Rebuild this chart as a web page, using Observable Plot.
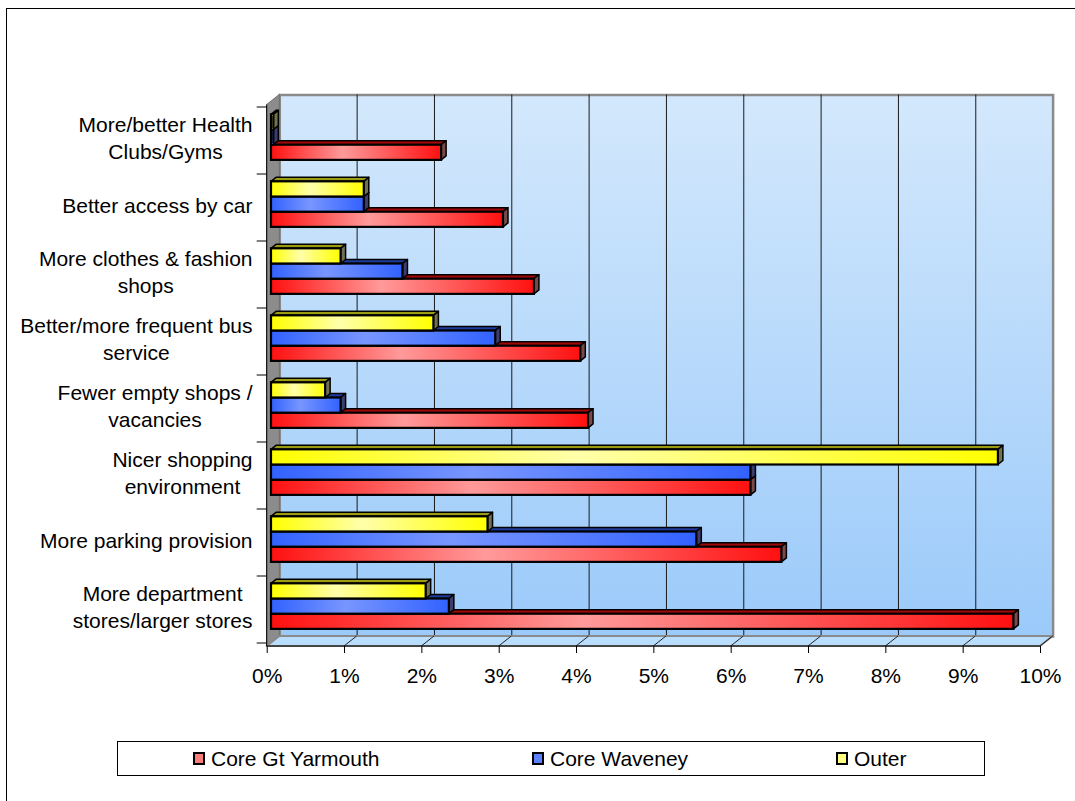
<!DOCTYPE html>
<html>
<head>
<meta charset="utf-8">
<script src="https://cdn.jsdelivr.net/npm/d3@7"></script>
<script src="https://cdn.jsdelivr.net/npm/@observablehq/plot@0.6"></script>
<style>
  html, body { margin: 0; padding: 0; background: #fff; width: 1075px; height: 801px; overflow: hidden; }
  #chart { position: absolute; left: 0; top: 0; }
  #border { position: absolute; left: 6px; top: 8px; width: 1200px; height: 1000px; border: 1px solid #000; box-sizing: border-box; pointer-events: none; }
  #legend { position: absolute; left: 117px; top: 741px; width: 868px; height: 35px; border: 1px solid #000; box-sizing: border-box; background: #fff;
            font-family: "Liberation Sans", Arial, sans-serif; font-size: 21px; color: #000; }
  #legend .sw { position: absolute; top: 10px; width: 12px; height: 13px; border: 2px solid #000; box-sizing: border-box; }
  #legend .lab { position: absolute; top: 0; line-height: 33px; white-space: nowrap; }
</style>
</head>
<body>
<div id="chart"></div>
<div id="legend"></div>
<div id="border"></div>
<script>
// Survey answers: share of respondents (%) wanting each improvement
const categories = [
  "More/better Health\nClubs/Gyms",
  "Better access by car",
  "More clothes & fashion\nshops",
  "Better/more frequent bus\nservice",
  "Fewer empty shops /\nvacancies",
  "Nicer shopping\nenvironment",
  "More parking provision",
  "More department\nstores/larger stores"
];
const seriesNames = ["Core Gt Yarmouth", "Core Waveney", "Outer"];
const coreGtYarmouth = [2.2, 3.0, 3.4, 4.0, 4.1, 6.2, 6.6, 9.6];
const coreWaveney    = [0.03, 1.2, 1.7, 2.9, 0.9, 6.2, 5.5, 2.3];
const outer          = [0.03, 1.2, 0.9, 2.1, 0.7, 9.4, 2.8, 2.0];
const xTicks = [0, 1, 2, 3, 4, 5, 6, 7, 8, 9, 10];

const seriesValues = {
  "Core Gt Yarmouth": coreGtYarmouth,
  "Core Waveney": coreWaveney,
  "Outer": outer
};

// Colours for each series: front gradient (base/light), top face, side face, legend key
const palette = {
  "Core Gt Yarmouth": {id: "g-yar", base: "#ff1010", light: "#ff9a9a", top: "#a00808", side: "#7a4a4a", key: "#ff7c7c"},
  "Core Waveney":     {id: "g-wav", base: "#3262ff", light: "#7896ff", top: "#1f3c9c", side: "#3c3c6e", key: "#5d80ff"},
  "Outer":            {id: "g-out", base: "#ffff00", light: "#ffffaa", top: "#9c9c10", side: "#707052", key: "#ffff80"}
};

// 3D geometry (pixels)
const wallDepth = {dx: 12.6, dy: 10};   // back wall offset from the front plane
const barOffset = {dx: 4.3, dy: 3.4};   // bars sit slightly behind the front plane
const barDepth = {dx: 5, dy: 4};        // thickness of each bar
const groupFraction = 0.68;             // share of a category band used by the bars

const font = '"Liberation Sans", Arial, sans-serif';
const labelSize = 21;
const labelGap = 14.7;

// Width of the widest line of a (possibly multi-line) label
const measureCtx = document.createElement("canvas").getContext("2d");
measureCtx.font = `${labelSize}px ${font}`;
const blockWidth = s => d3.max(s.split("\n"), line => measureCtx.measureText(line).width);

// Gradients used by the wall and the bar fronts
const defsMark = () => {
  const d = d3.create("svg:defs");
  const wall = d.append("linearGradient").attr("id", "wallGrad")
    .attr("x1", 0).attr("y1", 0).attr("x2", 0).attr("y2", 1);
  wall.append("stop").attr("offset", 0).attr("stop-color", "#d3e8fc");
  wall.append("stop").attr("offset", 1).attr("stop-color", "#9bcafa");
  for (const s of seriesNames) {
    const c = palette[s];
    const lg = d.append("linearGradient").attr("id", c.id)
      .attr("x1", 0).attr("y1", 0).attr("x2", 1).attr("y2", 0);
    lg.append("stop").attr("offset", 0).attr("stop-color", c.base);
    lg.append("stop").attr("offset", 0.42).attr("stop-color", c.light);
    lg.append("stop").attr("offset", 1).attr("stop-color", c.base);
  }
  return d.node();
};

// Left side wall and the floor of the 3D box
const sideWallsMark = (index, {x}, values, dims) => {
  const g = d3.create("svg:g");
  const x0 = x(0), x1 = x(10);
  const top = dims.marginTop, bottom = dims.height - dims.marginBottom;
  const {dx, dy} = wallDepth;
  g.append("polygon")
    .attr("points", [[x0, top], [x0 + dx, top - dy], [x0 + dx, bottom - dy], [x0, bottom]].join(" "))
    .attr("fill", "#8c8c8c").attr("stroke", "#6e6e6e").attr("stroke-width", 1);
  g.append("polygon")
    .attr("points", [[x0, bottom], [x1, bottom], [x1 + dx, bottom - dy], [x0 + dx, bottom - dy]].join(" "))
    .attr("fill", "#b9ddfd").attr("stroke", "#8a8a8a").attr("stroke-width", 2).attr("stroke-linejoin", "round");
  // grid continuation across the floor
  for (const t of xTicks.slice(1)) {
    g.append("line")
      .attr("x1", x(t)).attr("y1", bottom).attr("x2", x(t) + dx).attr("y2", bottom - dy)
      .attr("stroke", "#222").attr("stroke-width", 1);
  }
  // axis lines
  g.append("line").attr("x1", x0).attr("x2", x1).attr("y1", bottom).attr("y2", bottom)
    .attr("stroke", "#000").attr("stroke-width", 1);
  g.append("line").attr("x1", x0).attr("x2", x0).attr("y1", top).attr("y2", bottom)
    .attr("stroke", "#000").attr("stroke-width", 1);
  return g.node();
};

// Category dividers on the vertical axis
const categoryTicksMark = (index, {x, y}) => {
  const g = d3.create("svg:g");
  const bw = y.bandwidth();
  const edges = categories.map(c => y(c)).concat([y(categories[categories.length - 1]) + bw]);
  for (const e of edges) {
    g.append("line").attr("x1", x(0) - 10).attr("x2", x(0)).attr("y1", e).attr("y2", e)
      .attr("stroke", "#000").attr("stroke-width", 1);
  }
  return g.node();
};

// Grouped 3D bars: Outer on top, then Core Waveney, then Core Gt Yarmouth
const bars3dMark = (index, {x, y}) => {
  const g = d3.create("svg:g");
  const bw = y.bandwidth();
  const stackOrder = ["Outer", "Core Waveney", "Core Gt Yarmouth"];
  const sub = d3.scaleBand().domain(stackOrder)
    .range([-bw * groupFraction / 2, bw * groupFraction / 2]);
  const drawOrder = stackOrder.slice().reverse();
  const x0 = x(0) + barOffset.dx;
  const {dx, dy} = barDepth;
  categories.forEach((cat, i) => {
    const cy = y(cat) + bw / 2 - barOffset.dy;
    for (const s of drawOrder) {
      const c = palette[s];
      const v = seriesValues[s][i];
      const y0 = cy + sub(s), y1 = y0 + sub.bandwidth();
      const x1 = x(v) + barOffset.dx;
      g.append("polygon")
        .attr("points", [[x0, y0], [x1, y0], [x1 + dx, y0 - dy], [x0 + dx, y0 - dy]].join(" "))
        .attr("fill", c.top).attr("stroke", "#000").attr("stroke-width", 1.5).attr("stroke-linejoin", "round");
      g.append("polygon")
        .attr("points", [[x1, y0], [x1 + dx, y0 - dy], [x1 + dx, y1 - dy], [x1, y1]].join(" "))
        .attr("fill", c.side).attr("stroke", "#000").attr("stroke-width", 1.5).attr("stroke-linejoin", "round");
      g.append("rect")
        .attr("x", x0).attr("y", y0).attr("width", Math.max(0, x1 - x0)).attr("height", y1 - y0)
        .attr("fill", `url(#${c.id})`).attr("stroke", "#000").attr("stroke-width", 2.2);
    }
  });
  return g.node();
};

// Category labels: lines centred on each other, block right-aligned next to the axis
const labelMarks = categories.map(c =>
  Plot.text([c], {
    y: d => d, text: d => d, frameAnchor: "left", textAnchor: "middle",
    dx: -labelGap - blockWidth(c) / 2, dy: -4,
    fontSize: labelSize, lineHeight: 1.3, fill: "#000"
  })
);

const chart = Plot.plot({
  width: 1075,
  height: 720,
  marginLeft: 266.7,
  marginRight: 35,
  marginTop: 104.5,
  marginBottom: 74,
  style: {fontFamily: font, fontSize: "21px", background: "transparent", color: "#000", overflow: "visible"},
  x: {type: "linear", domain: [0, 10], axis: null},
  y: {type: "band", domain: categories, padding: 0, axis: null},
  marks: [
    defsMark,
    Plot.frame({fill: "url(#wallGrad)", stroke: "#8a8a8a", strokeWidth: 2.5, dx: wallDepth.dx, dy: -wallDepth.dy}),
    Plot.ruleX(xTicks.slice(1, -1), {stroke: "#1a1a1a", strokeWidth: 1, dx: wallDepth.dx, dy: -wallDepth.dy}),
    sideWallsMark,
    categoryTicksMark,
    Plot.axisX({ticks: xTicks, tickSize: 7, tickPadding: 15, fontSize: 21, tickFormat: d => d + "%", stroke: "#000"}),
    bars3dMark,
    ...labelMarks
  ]
});
document.getElementById("chart").appendChild(chart);

// Legend
const legendPos = {"Core Gt Yarmouth": 75, "Core Waveney": 414, "Outer": 718};
const legend = d3.select("#legend");
for (const s of seriesNames) {
  legend.append("span").attr("class", "sw")
    .style("left", legendPos[s] + "px").style("background", palette[s].key);
  legend.append("span").attr("class", "lab")
    .style("left", (legendPos[s] + 18) + "px").text(s);
}
</script>
</body>
</html>
